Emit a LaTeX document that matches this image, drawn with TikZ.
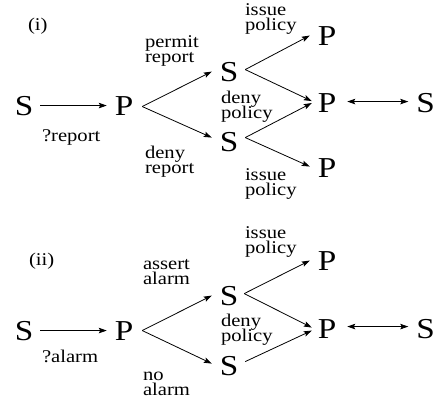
\documentclass[tikz,border=0pt]{standalone}
\usepackage{fontspec}
\setmainfont{Liberation Serif}[FakeStretch=1.15]
\usetikzlibrary{arrows.meta}
\newcommand\lblfont{\fontsize{18}{15}\selectfont}
\newcommand\bigfont{\fontsize{29}{29}\selectfont}
% two stacked lines with a fixed baseline distance
\newcommand\twolines[2]{\vbox{\baselineskip=15bp\lineskiplimit=-50bp\hbox{#1}\hbox{#2}}}
\begin{document}
\begin{tikzpicture}[x=1bp,y=-1bp,
  big/.style={inner sep=0pt, outer sep=0pt, anchor=base, font=\bigfont},
  lbl/.style={inner sep=0pt, outer sep=0pt, anchor=north west, font=\lblfont},
  tip/.tip={Stealth[length=8bp,width=5.5bp,inset=1.5bp]},
  arr/.style={line width=0.8bp, -tip},
  dbl/.style={line width=0.8bp, tip-tip}]
\useasboundingbox (0,0) rectangle (435,408);

% ---------- (i) ----------
\node[lbl] (tagi) at (28,18) {(i)};
\node[big] (S1) at (24,115) {S};
\node[big] (P1) at (124,115) {P};
\node[big] (St) at (229,81) {S};
\node[big] (Sb) at (229,151) {S};
\node[big] (Pt) at (327,45) {P};
\node[big] (Pm) at (327,112) {P};
\node[big] (Pb) at (327,177) {P};
\node[big] (Sr) at (425.5,112) {S};

\node[lbl] (q1) at (42,130) {?report};
\node[lbl] (pr) at (145,36) {\twolines{permit}{report}};
\node[lbl] (dr) at (145,146) {\twolines{deny}{report}};
\node[lbl] (ip1) at (245,4) {\twolines{issue}{policy}};
\node[lbl] (dp1) at (221,91) {\twolines{deny}{policy}};
\node[lbl] (ip2) at (245,169) {\twolines{issue}{policy}};

\draw[arr] ([xshift=7bp]S1.east) -- ([xshift=-8bp]P1.west);
\draw[arr] ([xshift=9bp,yshift=-1bp]P1.east) -- ([xshift=-8bp]St.west);
\draw[arr] ([xshift=9bp,yshift=-1bp]P1.east) -- ([xshift=-8bp,yshift=4bp]Sb.west);
\draw[arr] ([xshift=7bp,yshift=2bp]St.east) -- ([xshift=-8bp]Pt.west);
\draw[arr] ([xshift=7bp,yshift=2bp]St.east) -- ([xshift=-6bp,yshift=1.5bp]Pm.west);
\draw[arr] ([xshift=7bp,yshift=4bp]Sb.east) -- ([xshift=-6bp,yshift=-0.5bp]Pm.west);
\draw[arr] ([xshift=7bp,yshift=4bp]Sb.east) -- ([xshift=-8bp,yshift=1bp]Pb.west);
\draw[dbl] ([xshift=11bp,yshift=1bp]Pm.east) -- ([xshift=-8bp,yshift=1bp]Sr.west);

% ---------- (ii) ----------
\node[lbl] (tagii) at (29,253) {(ii)};
\node[big] (S2) at (24,340) {S};
\node[big] (P2) at (124,340) {P};
\node[big] (St2) at (229,305) {S};
\node[big] (Sb2) at (229,375) {S};
\node[big] (Pt2) at (327,270) {P};
\node[big] (Pm2) at (327,338) {P};
\node[big] (Sr2) at (425.5,338) {S};

\node[lbl] (q2) at (42,350) {?alarm};
\node[lbl] (aa) at (143,259) {\twolines{assert}{alarm}};
\node[lbl] (na) at (143,372) {\twolines{no}{alarm}};
\node[lbl] (ip3) at (245,227) {\twolines{issue}{policy}};
\node[lbl] (dp2) at (221,314) {\twolines{deny}{policy}};

\draw[arr] ([xshift=7bp]S2.east) -- ([xshift=-8bp]P2.west);
\draw[arr] ([xshift=9bp]P2.east) -- ([xshift=-8bp]St2.west);
\draw[arr] ([xshift=9bp]P2.east) -- ([xshift=-8bp,yshift=2bp]Sb2.west);
\draw[arr] ([xshift=6bp,yshift=2bp]St2.east) -- ([xshift=-8bp]Pt2.west);
\draw[arr] ([xshift=6bp,yshift=2bp]St2.east) -- ([xshift=-6bp,yshift=1bp]Pm2.west);
\draw[arr] ([xshift=7bp,yshift=4bp]Sb2.east) -- ([xshift=-6bp,yshift=-2bp]Pm2.west);
\draw[dbl] ([xshift=11bp,yshift=2bp]Pm2.east) -- ([xshift=-8bp,yshift=2bp]Sr2.west);
\end{tikzpicture}
\end{document}
